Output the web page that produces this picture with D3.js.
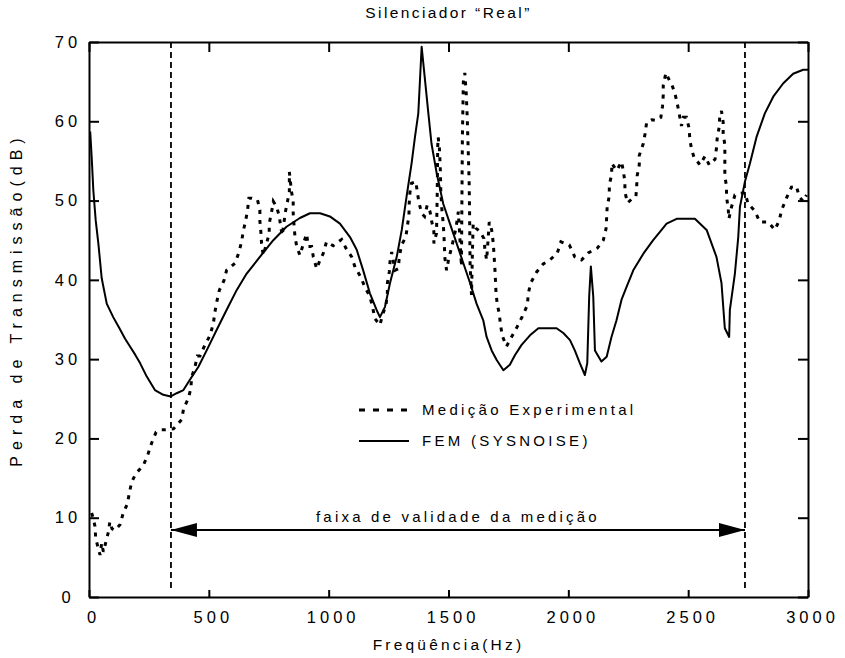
<!DOCTYPE html>
<html>
<head>
<meta charset="utf-8">
<script src="https://cdn.jsdelivr.net/npm/d3@7"></script>
<style>
  html, body { margin: 0; padding: 0; background: #fff; }
  svg { display: block; font-family: "Liberation Sans", Arial, sans-serif; }
</style>
</head>
<body>
<svg id="chart" width="845" height="658"></svg>
<script>
// ---------- DATA ----------
const titleText = "Silenciador \u201CReal\u201D";
const xLabel = "Freqüência(Hz)";
const yLabel = "Perda de Transmissão(dB)";
const seriesNames = ["Medição Experimental", "FEM (SYSNOISE)"];
const rangeLabel = "faixa de validade da medição";
const validRange = [342, 2737];
const xTicks = [0, 500, 1000, 1500, 2000, 2500, 3000];
const yTicks = [0, 10, 20, 30, 40, 50, 60, 70];

// FEM (SYSNOISE) curve: [frequency Hz, transmission loss dB]
const femData = [
[5,58.7],[12,55],[18,51.3],[28,47.5],[39,44.6],[53,40.2],[74,37.0],[101,35.3],[127,33.9],[150,32.6],
[171,31.6],[192,30.6],[213,29.5],[241,27.8],[275,26.1],[310,25.5],[341,25.3],[366,25.7],[394,26.1],[421,27.4],
[456,29.0],[491,31.1],[533,33.7],[574,36.2],[616,38.7],[658,40.8],[713,42.9],[769,45.0],[824,46.7],[880,47.8],
[922,48.4],[964,48.4],[1005,48.0],[1047,47.1],[1089,45.4],[1117,43.8],[1144,41.2],[1172,38.3],[1200,36.2],[1214,35.3],
[1235,36.6],[1256,39.6],[1284,42.9],[1305,46.3],[1325,50.5],[1346,54.7],[1360,58.0],[1374,61.0],[1381,65.2],[1388,69.4],
[1402,65.2],[1416,61.0],[1429,57.2],[1451,53.4],[1478,49.6],[1506,47.1],[1534,44.6],[1562,42.1],[1590,39.6],[1617,37.0],
[1645,34.9],[1659,32.8],[1680,31.1],[1701,29.9],[1729,28.6],[1756,29.3],[1777,30.5],[1805,31.8],[1840,33.0],[1875,33.9],
[1909,33.9],[1951,33.9],[1979,33.3],[2007,32.4],[2027,31.1],[2048,29.5],[2069,28.0],[2079,29.5],[2087,37.9],[2094,41.7],
[2104,37.9],[2111,31.1],[2138,29.7],[2160,30.3],[2180,32.8],[2201,34.9],[2222,37.5],[2243,39.1],[2271,41.2],[2313,43.3],
[2354,45.0],[2389,46.3],[2410,47.1],[2452,47.7],[2528,47.7],[2577,46.3],[2618,42.9],[2639,39.6],[2653,33.9],[2671,32.8],
[2674,36.2],[2695,40.8],[2709,45.4],[2716,49.2],[2737,52.4],[2758,54.7],[2785,58.0],[2820,61.0],[2855,63.1],[2897,64.8],
[2938,66.0],[2980,66.5],[3000,66.5]
];

// Experimental measurement: [frequency Hz, transmission loss dB]
const expData = [
[11,10.6],[18,9.9],[25,8.9],[28,7.4],[39,6.1],[46,5.3],[53,6.8],[60,5.7],[71,7.0],[81,8.2],
[87,9.5],[96,8.6],[108,8.4],[129,9.1],[143,10.6],[161,11.8],[168,13.1],[178,14.5],[196,15.6],[227,16.6],
[247,18.1],[261,19.4],[280,20.8],[303,21.1],[317,21.1],[352,21.2],[387,22.4],[395,23.8],[414,25.0],[425,26.3],
[428,27.7],[442,29.0],[452,30.4],[463,30.4],[484,31.8],[505,33.0],[519,34.5],[525,35.9],[533,37.2],[544,38.7],
[563,39.9],[574,41.2],[609,42.1],[626,43.5],[637,44.9],[644,46.2],[654,47.5],[662,48.9],[667,50.3],[679,50.3],
[703,50.1],[713,48.8],[713,47.4],[717,46.1],[720,44.6],[727,43.1],[741,44.6],[752,45.9],[752,47.1],[762,48.6],
[769,49.9],[783,49.2],[794,48.0],[801,46.5],[806,45.6],[813,47.1],[819,48.5],[827,49.7],[836,51.1],[836,52.4],
[836,53.6],[845,51.1],[852,49.9],[852,48.4],[855,47.1],[859,45.6],[866,44.3],[880,43.1],[894,44.5],[908,45.8],
[915,44.2],[929,44.2],[936,42.9],[950,41.4],[964,42.5],[977,43.3],[991,44.8],[1019,44.3],[1054,45.1],[1072,44.0],
[1096,42.9],[1110,41.6],[1133,40.4],[1151,39.1],[1172,37.9],[1183,36.6],[1193,35.1],[1214,34.3],[1225,35.6],[1239,36.8],
[1245,38.3],[1245,39.6],[1253,41.0],[1256,42.3],[1263,43.5],[1277,41.2],[1290,41.4],[1295,42.9],[1304,44.4],[1322,45.4],
[1328,46.7],[1335,48.2],[1336,49.6],[1339,51.0],[1346,52.2],[1364,52.4],[1370,51.0],[1378,49.6],[1388,48.4],[1400,48.0],
[1411,49.4],[1423,48.6],[1429,47.5],[1439,46.1],[1439,44.6],[1450,45.9],[1453,51.0],[1455,56.8],[1457,58.0],[1462,56.6],
[1466,53.8],[1468,51.1],[1472,49.0],[1478,47.1],[1481,45.6],[1485,42.7],[1492,41.2],[1500,42.5],[1508,43.5],[1520,45.0],
[1531,46.5],[1541,48.6],[1548,45.0],[1554,41.7],[1556,50.0],[1558,58.0],[1562,65.0],[1568,66.1],[1574,63.5],[1578,60.6],
[1582,56.6],[1586,52.6],[1588,48.4],[1590,42.1],[1596,38.1],[1600,43.8],[1603,47.1],[1615,46.5],[1631,46.1],[1648,45.2],
[1652,43.8],[1659,42.5],[1665,45.0],[1670,47.3],[1680,46.3],[1687,44.6],[1694,41.2],[1698,38.5],[1703,37.0],[1712,35.7],
[1717,34.3],[1725,32.9],[1742,31.6],[1763,32.8],[1787,34.1],[1808,35.4],[1829,36.8],[1833,38.3],[1843,39.6],[1868,41.0],
[1895,42.0],[1923,42.5],[1954,43.4],[1969,44.8],[2004,44.4],[2027,42.9],[2055,42.5],[2083,43.4],[2121,44.0],[2146,45.0],
[2157,46.4],[2160,47.9],[2162,49.2],[2171,50.6],[2171,52.0],[2181,53.3],[2181,54.7],[2202,53.8],[2222,54.9],[2229,53.8],
[2236,52.4],[2236,51.1],[2247,49.7],[2268,50.3],[2282,50.5],[2285,51.7],[2287,53.1],[2296,54.5],[2296,55.7],[2313,57.2],
[2320,58.4],[2327,59.9],[2348,60.2],[2368,60.1],[2386,60.5],[2393,61.9],[2396,63.3],[2396,64.5],[2407,66.1],[2424,65.0],
[2430,64.8],[2445,63.5],[2454,62.3],[2463,60.9],[2472,59.4],[2480,60.5],[2493,60.5],[2504,59.1],[2507,57.7],[2514,56.5],
[2524,55.5],[2549,54.5],[2570,55.6],[2588,54.5],[2612,55.2],[2618,56.6],[2621,57.8],[2629,59.2],[2632,60.7],[2639,61.3],
[2646,59.9],[2646,58.5],[2653,57.0],[2653,55.7],[2653,54.5],[2653,53.1],[2660,51.8],[2660,50.5],[2667,49.0],[2670,47.7],
[2681,49.2],[2695,50.7],[2716,50.9],[2737,51.0],[2750,49.6],[2778,48.7],[2799,47.3],[2834,47.3],[2862,46.3],[2880,47.5],
[2890,48.8],[2910,50.3],[2931,51.7],[2952,51.8],[2963,50.5],[2980,49.9],[2994,50.7]
];

// ---------- LAYOUT ----------
const W = 845, H = 658;
const margin = { left: 89, right: 37, top: 42, bottom: 61 };
const svg = d3.select("#chart");
const x = d3.scaleLinear().domain([0, 3000]).range([margin.left, W - margin.right]);
const y = d3.scaleLinear().domain([0, 70]).range([H - margin.bottom, margin.top]);
const x0 = x.range()[0], x1 = x.range()[1], y0 = y.range()[0], y1 = y.range()[1];

const labelFont = 16.5;
const spacing = "4px";
const fmt = d3.format("d");

// Axes
const gB = svg.append("g").attr("transform", `translate(0,${y0})`)
  .call(d3.axisBottom(x).tickValues(xTicks).tickFormat(fmt).tickSizeInner(-7).tickSizeOuter(0).tickPadding(14));
const gL = svg.append("g").attr("transform", `translate(${x0},0)`)
  .call(d3.axisLeft(y).tickValues(yTicks).tickFormat(fmt).tickSizeInner(-10).tickSizeOuter(0).tickPadding(22));
const gT = svg.append("g").attr("transform", `translate(0,${y1})`)
  .call(d3.axisTop(x).tickValues(xTicks).tickSizeInner(-10).tickSizeOuter(0).tickFormat(""));
const gR = svg.append("g").attr("transform", `translate(${x1},0)`)
  .call(d3.axisRight(y).tickValues(yTicks).tickSizeInner(-10).tickSizeOuter(0).tickFormat(""));

[gB, gL, gT, gR].forEach(g => {
  g.select(".domain").attr("stroke", "#000").attr("stroke-width", 2);
  g.selectAll(".tick line").attr("stroke", "#000").attr("stroke-width", 2);
  g.selectAll(".tick text").attr("fill", "#000")
    .style("font-size", labelFont + "px")
    .style("font-family", "'Liberation Sans', Arial, sans-serif")
    .style("letter-spacing", spacing);
});
gB.selectAll(".tick text").attr("dx", "4px");
gL.selectAll(".tick text").attr("text-anchor", "middle").attr("dx", "1px");

// Validity range dashed verticals
svg.append("g").selectAll("line").data(validRange).join("line")
  .attr("x1", d => x(d)).attr("x2", d => x(d))
  .attr("y1", y1).attr("y2", y0 - 6)
  .attr("stroke", "#000").attr("stroke-width", 1.8)
  .attr("stroke-dasharray", "6,4");

// Curves
const line = d3.line().x(d => x(d[0])).y(d => y(d[1]));
svg.append("path").datum(femData)
  .attr("fill", "none").attr("stroke", "#000").attr("stroke-width", 2)
  .attr("stroke-linejoin", "round")
  .attr("d", line);
svg.append("path").datum(expData)
  .attr("fill", "none").attr("stroke", "#000").attr("stroke-width", 3)
  .attr("stroke-dasharray", "4,6")
  .attr("d", line);

// Arrow (validity range)
const defs = svg.append("defs");
defs.append("marker").attr("id", "ah").attr("viewBox", "0 0 26 14")
  .attr("refX", 26).attr("refY", 7).attr("markerWidth", 26).attr("markerHeight", 14)
  .attr("markerUnits", "userSpaceOnUse").attr("orient", "auto-start-reverse")
  .append("path").attr("d", "M0,0 L26,7 L0,14 Z").attr("fill", "#000");
const arrowY = 530;
svg.append("line")
  .attr("x1", x(validRange[0])).attr("x2", x(validRange[1]))
  .attr("y1", arrowY).attr("y2", arrowY)
  .attr("stroke", "#000").attr("stroke-width", 2)
  .attr("marker-start", "url(#ah)").attr("marker-end", "url(#ah)");
svg.append("text")
  .attr("x", (x(validRange[0]) + x(validRange[1])) / 2).attr("y", arrowY - 8)
  .attr("text-anchor", "middle").style("font-size", "15px").style("letter-spacing", "3.2px")
  .text(rangeLabel);

// Legend
const legX = 359, legY = [410, 441];
const leg = svg.append("g");
leg.append("line").attr("x1", legX).attr("x2", legX + 50).attr("y1", legY[0]).attr("y2", legY[0])
  .attr("stroke", "#000").attr("stroke-width", 3).attr("stroke-dasharray", "6,8");
leg.append("line").attr("x1", legX).attr("x2", legX + 50).attr("y1", legY[1]).attr("y2", legY[1])
  .attr("stroke", "#000").attr("stroke-width", 2);
leg.selectAll("text").data(seriesNames).join("text")
  .attr("x", legX + 63).attr("y", (d, i) => legY[i]).attr("dy", "0.35em")
  .style("font-size", "15px").style("letter-spacing", "3.3px")
  .text(d => d);

// Titles
svg.append("text").attr("x", (x0 + x1) / 2).attr("y", 18)
  .attr("text-anchor", "middle").style("font-size", "15.5px").style("letter-spacing", "2.4px")
  .text(titleText);
svg.append("text").attr("x", (x0 + x1) / 2).attr("y", 650)
  .attr("text-anchor", "middle").style("font-size", "15.5px").style("letter-spacing", "3.2px")
  .text(xLabel);
svg.append("text").attr("transform", `translate(22,${(y0 + y1) / 2 - 20}) rotate(-90)`)
  .attr("text-anchor", "middle").style("font-size", "16px").style("letter-spacing", "6px")
  .text(yLabel);
</script>
</body>
</html>
